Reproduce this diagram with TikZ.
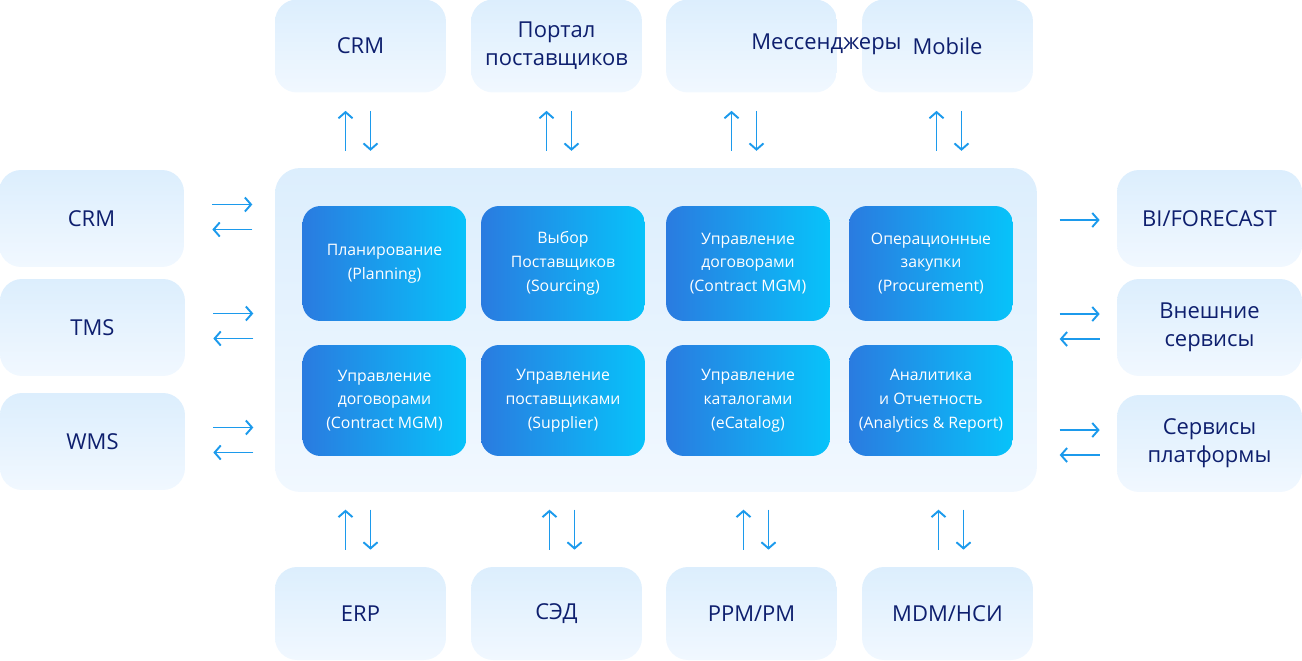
\documentclass[tikz,border=0pt]{standalone}
\usepackage{fontspec}
\setmainfont{Open Sans}
\usepackage{xcolor}
\usetikzlibrary{arrows.meta,positioning}
\definecolor{navy}{HTML}{0E1F6E}
\definecolor{paletop}{HTML}{DCEEFD}
\definecolor{palebot}{HTML}{F1F8FF}
\definecolor{modleft}{HTML}{2A7BE0}
\definecolor{modright}{HTML}{07C3FA}
\definecolor{arrowblue}{HTML}{1C9AEC}

\tikzset{
  outbox/.style={draw=none, rounded corners=0.44cm, top color=paletop, bottom color=palebot,
    text=navy, align=center, font=\fontsize{12.5}{15.8}\selectfont,
    minimum width=3.42cm, minimum height=1.86cm, inner sep=0pt},
  sidebox/.style={outbox, minimum width=3.7cm, minimum height=1.94cm},
  module/.style={draw=none, rounded corners=0.36cm, left color=modleft, right color=modright,
    text=white, align=center, font=\fontsize{9}{13.6}\selectfont,
    minimum width=3.28cm, minimum height=2.3cm, inner sep=0pt},
  flow/.style={draw=arrowblue, line width=1.1pt, -{Straight Barb[length=3.5pt,width=8pt]}}
}

\begin{document}
\begin{tikzpicture}[x=0.02cm,y=-0.02cm]
\useasboundingbox (0,0) rectangle (1302,660);

% platform
\node[draw=none, rounded corners=0.5cm, top color=paletop, bottom color=palebot,
  minimum width=15.24cm, minimum height=6.48cm] (core) at (656,330) {};

% modules
\node[module] (plan) at (384.5,263.5) {Планирование\\(Planning)};
\node[module] (sourcing) at (563,263.5) {Выбор\\Поставщиков\\(Sourcing)};
\node[module] (contract) at (748,263.5) {Управление\\договорами\\(Contract MGM)};
\node[module] (procure) at (931,263.5) {Операционные\\закупки\\(Procurement)};
\node[module, minimum height=2.22cm] (contract2) at (384.5,400.5) {Управление\\договорами\\(Contract MGM)};
\node[module, minimum height=2.22cm] (supplier) at (563,400.5) {Управление\\поставщиками\\(Supplier)};
\node[module, minimum height=2.22cm] (catalog) at (748,400.5) {Управление\\каталогами\\(eCatalog)};
\node[module, minimum height=2.22cm] (analytics) at (931,400.5) {Аналитика\\и Отчетность\\(Analytics \& Report)};

% top systems (mobile first, the messengers label runs over it)
\node[outbox] (crmtop) at (360.5,46) {CRM};
\node[outbox] (portal) at (556.5,46) {Портал\\поставщиков};
\node[outbox] (mobile) at (947.5,46) {Mobile};
\node[outbox, label={[text=navy, font=\fontsize{12.5}{15.8}\selectfont, xshift=1.5cm, yshift=0.03cm]center:Мессенджеры}] (messengers) at (751.5,46) {};

% bottom systems
\node[outbox] (erp) at (360.5,613.5) {ERP};
\node[outbox] (sed) at (556.5,613.5) {СЭД};
\node[outbox] (ppm) at (751.5,613.5) {PPM/PM};
\node[outbox] (mdm) at (947.5,613.5) {MDM/НСИ};

% left systems
\node[sidebox] (crmleft) at (91.5,218.5) {CRM};
\node[sidebox] (tms) at (92.5,327.5) {TMS};
\node[sidebox] (wms) at (92.5,441.5) {WMS};

% right systems
\node[sidebox] (bi) at (1209.5,218.5) {BI/FORECAST};
\node[sidebox] (ext) at (1209.5,327.5) {Внешние\\сервисы};
\node[sidebox] (svc) at (1209.5,443.5) {Сервисы\\платформы};

% vertical exchange
\foreach \sys/\dx in {crmtop/-0.3,portal/-0.2,messengers/-0.4,mobile/-0.22}{
  \draw[flow] ([xshift=\dx cm,yshift=-1.16cm]\sys.south) -- ++(0,0.8cm);
  \draw[flow] ([xshift=\dx cm+0.5cm,yshift=-0.36cm]\sys.south) -- ++(0,-0.8cm);
}
\foreach \sys/\dx in {erp/-0.3,sed/-0.14,ppm/-0.16,mdm/-0.18}{
  \draw[flow] ([xshift=\dx cm,yshift=0.34cm]\sys.north) -- ++(0,0.8cm);
  \draw[flow] ([xshift=\dx cm+0.5cm,yshift=1.14cm]\sys.north) -- ++(0,-0.8cm);
}

% horizontal exchange
\foreach \sys in {crmleft,tms,wms}{
  \draw[flow] ([xshift=0.56cm,yshift=0.28cm]\sys.east) -- ++(0.8cm,0);
  \draw[flow] ([xshift=1.36cm,yshift=-0.22cm]\sys.east) -- ++(-0.8cm,0);
}
\draw[flow] ([xshift=-1.14cm,yshift=-0.03cm]bi.west) -- ++(0.8cm,0);
\foreach \sys in {ext,svc}{
  \draw[flow] ([xshift=-1.14cm,yshift=0.27cm]\sys.west) -- ++(0.8cm,0);
  \draw[flow] ([xshift=-0.34cm,yshift=-0.23cm]\sys.west) -- ++(-0.8cm,0);
}
\end{tikzpicture}
\end{document}
